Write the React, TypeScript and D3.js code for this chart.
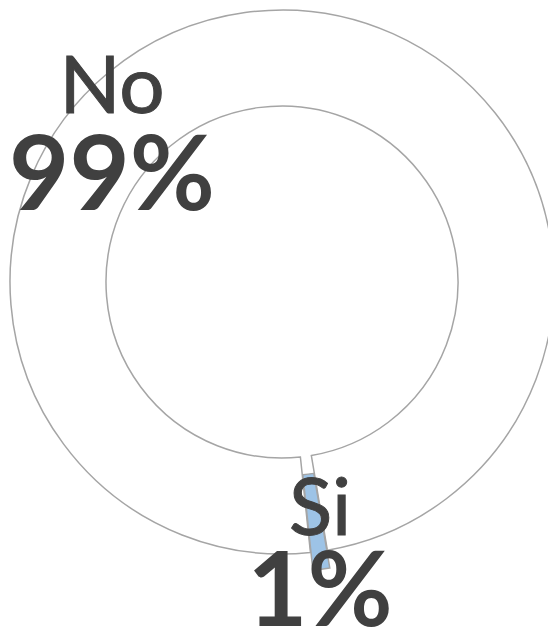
import React from "react";
import * as d3 from "d3";

const categories = ["No", "Si"];
const values = [99, 1];
const percentLabels = ["99%", "1%"];
const fills = ["#ffffff", "#9dc3e6"];

const W = 548;
const H = 633;
const CX = 282;
const CY = 282;
const R_OUT = 272;
const R_IN = 176;
const FIRST_ANGLE_DEG = 174; // Excel "angle of first slice"
const EXPLODE = [0, 18];

// label anchor offsets (layout only)
const labelPos = [
  { x: 112, yName: 113, yPct: 210 },
  { x: 320, yName: 535, yPct: 626 },
];

export default function App() {
  const start = (FIRST_ANGLE_DEG * Math.PI) / 180;
  const pie = d3
    .pie<number>()
    .sort(null)
    .value((d) => d)
    .startAngle(start)
    .endAngle(start + 2 * Math.PI);
  const arcs = pie(values);
  const arcGen = d3.arc<d3.PieArcDatum<number>>().innerRadius(R_IN).outerRadius(R_OUT);

  return (
    <svg
      width={W}
      height={H}
      style={{ position: "absolute", left: 0, top: 0, display: "block" }}
    >
      <rect width={W} height={H} fill="#ffffff" />
      <g transform={`translate(${CX},${CY})`}>
        {arcs.map((a, i) => {
          const mid = (a.startAngle + a.endAngle) / 2;
          const dx = Math.sin(mid) * EXPLODE[i];
          const dy = -Math.cos(mid) * EXPLODE[i];
          return (
            <path
              key={categories[i]}
              d={arcGen(a) || ""}
              transform={`translate(${dx},${dy})`}
              fill={fills[i]}
              stroke="#a5a5a5"
              strokeWidth={1.5}
            />
          );
        })}
      </g>
      {categories.map((c, i) => (
        <g key={c} fill="#404040" fontFamily="Lato, 'Open Sans', sans-serif" textAnchor="middle">
          <text x={labelPos[i].x} y={labelPos[i].yName} fontSize={80} stroke="#404040" strokeWidth={1}>
            {c}
          </text>
          <text x={labelPos[i].x} y={labelPos[i].yPct} fontSize={104} fontWeight="bold">
            {percentLabels[i]}
          </text>
        </g>
      ))}
    </svg>
  );
}
